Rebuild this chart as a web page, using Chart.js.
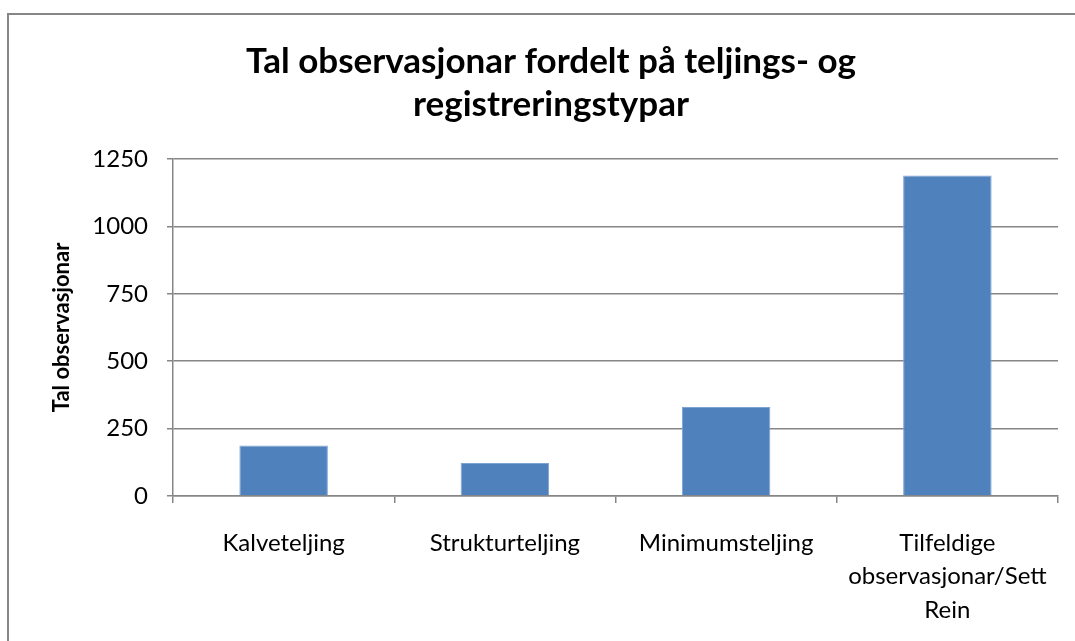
<!DOCTYPE html>
<html>
<head>
<meta charset="utf-8">
<script src="https://cdn.jsdelivr.net/npm/chart.js@4.4.1/dist/chart.umd.min.js"></script>
<style>
  html, body { margin: 0; padding: 0; background: #ffffff; }
  #c { display: block; }
</style>
</head>
<body>
<canvas id="c" width="1075" height="641"></canvas>
<script>
// ---- data ----
const chartTitle = ["Tal observasjonar fordelt på teljings- og", "registreringstypar"];
const yAxisTitle = "Tal observasjonar";
const categories = [
  "Kalveteljing",
  "Strukturteljing",
  "Minimumsteljing",
  ["Tilfeldige", "observasjonar/Sett", "Rein"]
];
const observations = [187, 122, 330, 1189];
const yTicks = [0, 250, 500, 750, 1000, 1250];

const GRID = '#868686';
const FONT = 'Lato, "Open Sans", "DejaVu Sans", sans-serif';

const framePlugin = {
  id: 'frame',
  beforeDraw(chart) {
    const ctx = chart.ctx;
    ctx.save();
    ctx.fillStyle = '#ffffff';
    ctx.fillRect(0, 0, chart.width, chart.height);
    ctx.strokeStyle = GRID;
    ctx.lineWidth = 2;
    ctx.strokeRect(8, 14, chart.width + 20, chart.height + 20);
    ctx.restore();
  }
};

new Chart(document.getElementById('c'), {
  type: 'bar',
  data: {
    labels: categories,
    datasets: [{
      label: yAxisTitle,
      data: observations,
      backgroundColor: '#4F81BD',
      borderColor: '#7FA3D1',
      borderWidth: 1,
      categoryPercentage: 1.0,
      barPercentage: 0.4
    }]
  },
  options: {
    responsive: false,
    animation: false,
    devicePixelRatio: 1,
    layout: { padding: { left: 44, right: 17, top: 0, bottom: 0 } },
    plugins: {
      legend: { display: false },
      tooltip: { enabled: false },
      title: {
        display: true,
        text: chartTitle,
        color: '#000000',
        font: { family: FONT, size: 35, weight: 'bold', lineHeight: 1.23 },
        padding: { top: 40.5, bottom: 32.4 }
      }
    },
    scales: {
      x: {
        offset: true,
        afterFit(s) { s.height = 145; },
        grid: {
          offset: true,
          drawOnChartArea: false,
          drawTicks: true,
          tickLength: 7,
          color: GRID,
          lineWidth: 1.5
        },
        border: { display: true, color: GRID, width: 1.5 },
        ticks: {
          color: '#000000',
          padding: 23,
          maxRotation: 0,
          autoSkip: false,
          font: { family: FONT, size: 24, lineHeight: 1.4 }
        }
      },
      y: {
        min: 0,
        max: 1250,
        afterFit(s) { s.width = 129; },
        afterBuildTicks(s) { s.ticks = yTicks.map(v => ({ value: v })); },
        grid: {
          color: GRID,
          lineWidth: 1.5,
          drawTicks: true,
          tickLength: 6
        },
        border: { display: true, color: GRID, width: 1.5 },
        ticks: {
          color: '#000000',
          padding: 19,
          font: { family: FONT, size: 24 },
          callback: (v) => String(v)
        },
        title: {
          display: true,
          text: yAxisTitle,
          color: '#000000',
          font: { family: FONT, size: 22, weight: 'bold', lineHeight: 1.2 },
          padding: { top: 5, bottom: 0 }
        }
      }
    }
  },
  plugins: [framePlugin]
});
</script>
</body>
</html>
